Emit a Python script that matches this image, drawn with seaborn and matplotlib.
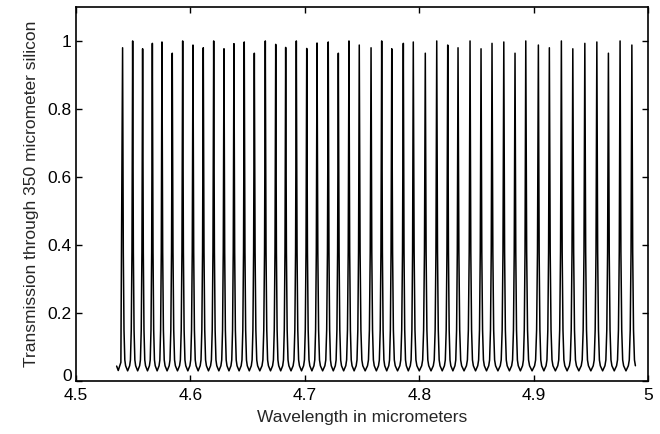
# Transmission of a 350 um silicon slab (Fabry-Perot fringes)

import pandas as pd
import seaborn as sns
import matplotlib.pyplot as plt
from matplotlib.transforms import ScaledTranslation

# fringe maxima (wavelength, transmission)
peak_wl = [4.5408, 4.5496, 4.5583, 4.5668, 4.5752, 4.5842, 4.5933, 4.6023,
           4.6113, 4.6204, 4.6294, 4.6381, 4.6471, 4.6559, 4.6655, 4.6746,
           4.6833, 4.6926, 4.7017, 4.7107, 4.7205, 4.7293, 4.7386, 4.7476,
           4.7579, 4.7672, 4.7760, 4.7861, 4.7948, 4.8053, 4.8153, 4.8249,
           4.8339, 4.8444, 4.8540, 4.8636, 4.8739, 4.8837, 4.8931, 4.9041,
           4.9137, 4.9242, 4.9342, 4.9447, 4.9552, 4.9653, 4.9755, 4.9858]
peak_T = [0.980, 1.000, 0.977, 0.993, 0.997, 0.964, 1.000, 0.988, 0.980, 1.000,
          0.977, 0.992, 0.997, 0.964, 1.000, 0.990, 0.981, 1.000, 0.978, 0.994,
          0.997, 0.964, 1.000, 0.988, 0.980, 1.000, 0.977, 0.993, 0.997, 0.964,
          1.000, 0.988, 0.980, 1.000, 0.977, 0.993, 0.997, 0.964, 1.000,
          0.988, 0.980, 1.000, 0.977, 0.993, 0.997, 0.964, 1.000, 0.988]

# start of the curve, before the first maximum
start_wl = [4.5356, 4.5370, 4.5393]
start_T = [0.044, 0.031, 0.055]

# shape of one fringe flank: offset as share of the fringe spacing, level
flank_frac = [0.07, 0.14, 0.22, 0.30]
flank_T = [0.38, 0.15, 0.062, 0.045]
trough_T = 0.03

wl = list(start_wl)
T = list(start_T)
for i in range(len(peak_wl)):
    wl.append(peak_wl[i])
    T.append(peak_T[i])
    if i + 1 < len(peak_wl):
        d = peak_wl[i + 1] - peak_wl[i]
        for f, t in zip(flank_frac, flank_T):
            wl.append(peak_wl[i] + f * d)
            T.append(t)
        wl.append(peak_wl[i] + 0.5 * d)
        T.append(trough_T)
        for f, t in zip(flank_frac[::-1], flank_T[::-1]):
            wl.append(peak_wl[i + 1] - f * d)
            T.append(t)
    else:
        d = peak_wl[i] - peak_wl[i - 1]
        for f, t in zip(flank_frac, flank_T):
            wl.append(peak_wl[i] + f * d)
            T.append(t)

df = pd.DataFrame({"wl": wl, "T": T})

sns.set_style("ticks")
plt.rcParams["font.family"] = ["Liberation Sans", "DejaVu Sans"]

fig = plt.figure(figsize=(6.6, 4.34), dpi=100)
ax = fig.add_axes([0.115, 0.122, 0.867, 0.862])

sns.lineplot(data=df, x="wl", y="T", color="black", linewidth=1.1,
             sort=False, estimator=None, ax=ax)

ax.set_xlim(4.5, 5.0)
ax.set_ylim(0, 1.1)
ax.set_xticks([4.5, 4.6, 4.7, 4.8, 4.9, 5.0])
ax.set_xticklabels(["4.5", "4.6", "4.7", "4.8", "4.9", "5"])
ax.set_yticks([0, 0.2, 0.4, 0.6, 0.8, 1.0])
ax.set_yticklabels(["0", "0.2", "0.4", "0.6", "0.8", "1"])
ax.tick_params(direction="in", top=True, right=True, length=4, width=1,
               labelsize=12.5, colors="black")
ax.tick_params(axis="x", pad=5)
ax.tick_params(axis="y", pad=3)
for s in ax.spines.values():
    s.set_visible(True)
    s.set_linewidth(1.2)
    s.set_color("black")

# lift the "0" a little so it clears "4.5" underneath
zero = ax.get_yticklabels()[0]
zero.set_transform(zero.get_transform() + ScaledTranslation(0, 4 / 72, fig.dpi_scale_trans))

ax.set_xlabel("Wavelength in micrometers", fontsize=12.5, labelpad=5)
ax.set_ylabel("Transmission through 350 micrometer silicon", fontsize=12.5,
              labelpad=6)

fig.savefig("out.png", dpi=100)
